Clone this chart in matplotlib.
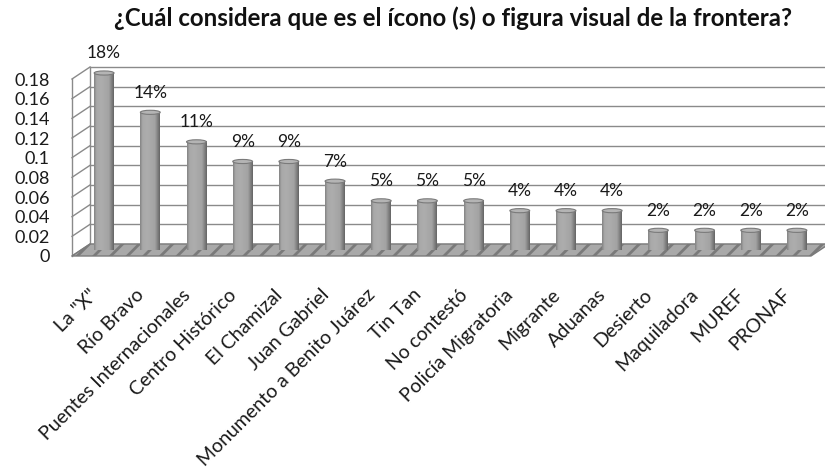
import numpy as np
import matplotlib.pyplot as plt
import matplotlib.transforms as mtransforms
from matplotlib.patches import Polygon, Ellipse

plt.rcParams['font.family'] = ['Lato', 'DejaVu Sans']
plt.rcParams['hatch.color'] = '#e8e8e8'
plt.rcParams['hatch.linewidth'] = 2.0

categorias = ['La "X"', 'Río Bravo', 'Puentes Internacionales', 'Centro Histórico',
              'El Chamizal', 'Juan Gabriel', 'Monumento a Benito Juárez', 'Tin Tan',
              'No contestó', 'Policía Migratoria', 'Migrante', 'Aduanas', 'Desierto',
              'Maquiladora', 'MUREF', 'PRONAF']
valores = [0.18, 0.14, 0.11, 0.09, 0.09, 0.07, 0.05, 0.05, 0.05, 0.04, 0.04, 0.04,
           0.02, 0.02, 0.02, 0.02]
ticks_y = [0, 0.02, 0.04, 0.06, 0.08, 0.1, 0.12, 0.14, 0.16, 0.18]
etiquetas_y = ['0', '0.02', '0.04', '0.06', '0.08', '0.1', '0.12', '0.14', '0.16', '0.18']
titulo = '¿Cuál considera que es el ícono (s) o figura visual de la frontera?'

fig = plt.figure(figsize=(8.25, 4.68), dpi=100)
ax = fig.add_axes([72 / 825, 1 - 256 / 468, 739 / 825, 177 / 468])

# desplazamiento de profundidad (efecto 3D)
dx, dy = 0.39, 0.0122
n = len(categorias)
x0, x1 = -0.5, n - 0.5
gris = '#8a8a8a'

# pared del fondo y pared izquierda
for v in ticks_y:
    ax.plot([x0 + dx, x1 + dx], [v + dy, v + dy], color=gris, lw=1, clip_on=False, zorder=1)
    ax.plot([x0, x0 + dx], [v, v + dy], color=gris, lw=1, clip_on=False, zorder=1)
ax.plot([x0, x0], [0, ticks_y[-1]], color=gris, lw=1, clip_on=False, zorder=1)
ax.plot([x0 + dx, x0 + dx], [dy, ticks_y[-1] + dy], color=gris, lw=1, clip_on=False, zorder=1)

# piso
piso = Polygon([(x0, 0), (x1, 0), (x1 + dx, dy), (x0 + dx, dy)], closed=True,
               facecolor='#a9a9a9', edgecolor='#7a7a7a', hatch='//', lw=1,
               clip_on=False, zorder=2)
ax.add_patch(piso)

# cilindros
w = 0.43
t = np.linspace(0, 1, 40)
perfil = np.interp(t, [0, 0.12, 0.35, 0.75, 0.9, 1], [0.52, 0.66, 0.68, 0.64, 0.5, 0.4])
grad = perfil[np.newaxis, :]
for i, v in enumerate(valores):
    cx = i + dx / 2
    yb, yt = dy / 2, v + dy / 2
    ax.imshow(grad, extent=[cx - w / 2, cx + w / 2, yb, yt], aspect='auto',
              cmap='gray', vmin=0, vmax=1, clip_on=False, zorder=3,
              interpolation='bilinear')
    ax.add_patch(Ellipse((cx, yt), w, 0.0042, facecolor='#b4b4b4', edgecolor='#7a7a7a',
                         lw=0.8, clip_on=False, zorder=4))
    ax.text(cx, yt + 0.02, f'{round(v * 100)}%', ha='center', va='center',
            fontsize=12.5, color='#1a1a1a', zorder=5)

ax.set_xlim(x0, x1)
ax.set_ylim(0, ticks_y[-1])
ax.set_yticks(ticks_y, etiquetas_y, fontsize=13, color='#1a1a1a')
ax.set_xticks(range(n), categorias, rotation=45, ha='right', va='center',
              rotation_mode='anchor', fontsize=14, color='#1a1a1a')
desplaza = mtransforms.ScaledTranslation(-4 / 72, 0, fig.dpi_scale_trans)
for lbl in ax.get_xticklabels():
    lbl.set_transform(lbl.get_transform() + desplaza)
ax.tick_params(axis='y', length=0, pad=16)
ax.tick_params(axis='x', length=0, pad=26)
for s in ax.spines.values():
    s.set_visible(False)
ax.patch.set_visible(False)

fig.text(453 / 825, 1 - 18 / 468, titulo, ha='center', va='center',
         fontweight='bold', fontsize=17.3, color='#111111')

fig.savefig('out.png', dpi=100)
